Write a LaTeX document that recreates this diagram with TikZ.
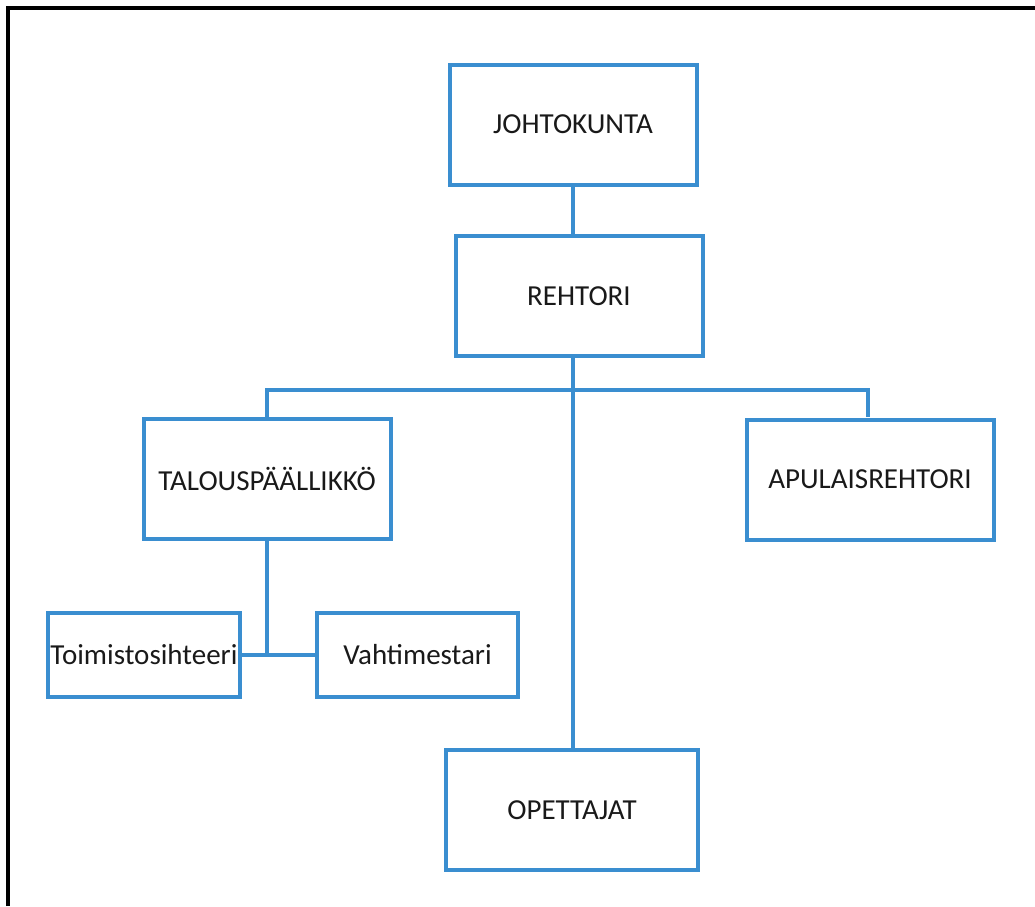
\documentclass[tikz,border=0pt]{standalone}
\usepackage{fontspec}
\setmainfont{Carlito}
\usetikzlibrary{positioning}
\definecolor{orgblue}{RGB}{58,142,208}
\definecolor{orgtext}{RGB}{25,25,25}

\begin{document}
\begin{tikzpicture}[x=1pt, y=-1pt, unit/.style={rectangle, draw=orgblue, line width=4pt, align=center, text=orgtext, font=\fontsize{29}{34}\selectfont}, big/.style={unit, minimum width=247pt, minimum height=120pt}, small/.style={unit, inner sep=1pt, minimum height=84pt}, link/.style={draw=orgblue, line width=4pt}]
	\useasboundingbox (0,0) rectangle (1035,906);
	% frame
	\draw[line width=4pt] (7.5,906) -- (7.5,7.5) -- (1035,7.5);

	% nodes
	\node[big] (johto) at (573,124.5) {JOHTOKUNTA};%
	\node[big] (rehtori) at (579,296) {REHTORI};%
	\node[big] (talous) at (267,478.5) {TALOUSPÄÄLLIKKÖ};%
	\node[big] (apul) at (870,479.5) {APULAISREHTORI};%
	\node[big, minimum width=252pt] (opett) at (572,810) {OPETTAJAT};%
	\node[small, minimum width=192pt] (toimisto) at (144,655) {Toimistosihteeri};%
	\node[small, minimum width=201pt] (vahti) at (417.5,655) {Vahtimestari};%
	\coordinate (bus) at (573,390);
	\coordinate (junc) at (talous.south |- toimisto.east);

	% edges
	\draw[link] (johto.south) -- (johto.south |- rehtori.north);
	\draw[link] (bus |- rehtori.south) -- (bus |- opett.north);
	\draw[link] (talous.north) |- (bus) -| (868,417);
	\draw[link] (talous.south) -- (junc);
	\draw[link] (toimisto.east) -- (vahti.west);
\end{tikzpicture}
\end{document}
